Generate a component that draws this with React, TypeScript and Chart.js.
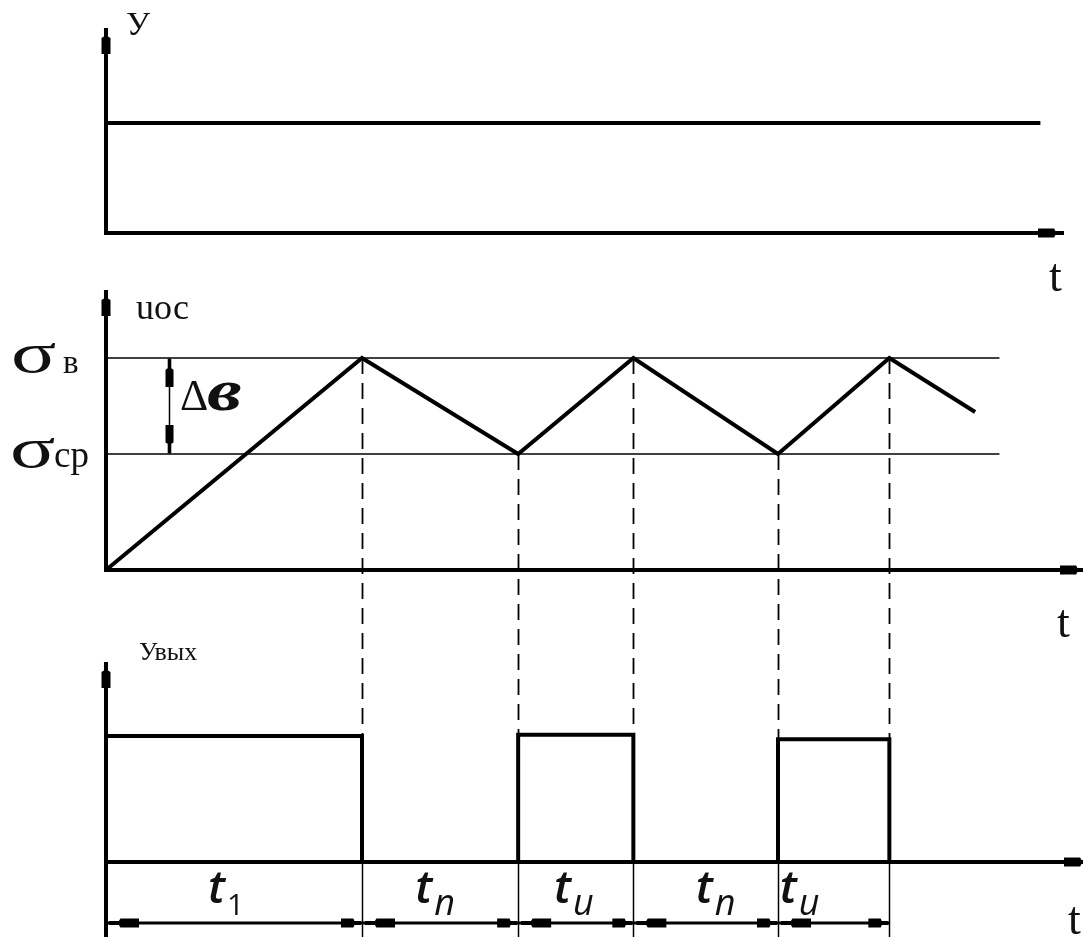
import { useEffect, useRef } from 'react';
import { Chart, registerables } from 'chart.js';

Chart.register(...registerables);

// ---- data (time in ms, signal values in relative units) ----
const inputTimes = [0, 36.5];
const inputValues = [1, 1];

const uocTimes = [0, 10, 16.1, 20.6, 26.25, 30.6, 33.95];
const uocValues = [0, 1, 0.547, 1, 0.547, 1, 0.745];

const sigmaUpper = 1;
const sigmaLower = 0.547;
const sigmaEndTime = 34.9;

const switchTimes = [0, 10, 16.1, 20.6, 26.25, 30.6];
const outputLevels = [1, 0, 1.01, 0, 0.975, 0];
const intervalSubs = ['1', 'n', 'u', 'n', 'u'];

// ---- layout ----
const W = 1083;
const H = 937;
const X0 = 106; // pixel of t = 0
const PX_PER_MS = 25.6;
const SERIF = '"Liberation Serif", "Times New Roman", serif';
const SANS = '"Open Sans", "Noto Sans", sans-serif';

function band(basePx: number, unitPx: number) {
  return {
    type: 'linear' as const,
    display: false,
    bounds: 'data' as const,
    min: (basePx - H) / unitPx,
    max: basePx / unitPx,
  };
}

function pts(xs: number[], ys: number[]) {
  return xs.map((x, i) => ({ x, y: ys[i] }));
}

// slim arrow head: tip at (x, y), pointing along (dx, dy)
function arrowHead(
  ctx: CanvasRenderingContext2D,
  x: number,
  y: number,
  dx: number,
  dy: number,
  len: number,
  half: number
) {
  const px = -dy;
  const py = dx;
  const shape: [number, number][] = [
    [0, -half * 0.45],
    [len * 0.33, -half * 0.45],
    [len * 0.38, -half],
    [len, -half],
    [len, half],
    [len * 0.38, half],
    [len * 0.33, half * 0.45],
    [0, half * 0.45],
  ];
  ctx.beginPath();
  shape.forEach(([u, v], i) => {
    const X = x - dx * u + px * v;
    const Y = y - dy * u + py * v;
    if (i === 0) ctx.moveTo(X, Y);
    else ctx.lineTo(X, Y);
  });
  ctx.closePath();
  ctx.fill();
}

const diagramPlugin = {
  id: 'diagram',
  beforeDatasetsDraw(chart: any) {
    const ctx: CanvasRenderingContext2D = chart.ctx;
    const xs = chart.scales.x;
    const yU = chart.scales.yU;
    const yOut = chart.scales.yOut;
    const outBase = yOut.getPixelForValue(0);
    ctx.save();
    ctx.strokeStyle = '#000';
    // projection lines from the sawtooth extremes down to the output pulses
    for (let i = 1; i < switchTimes.length; i++) {
      const t = switchTimes[i];
      const k = uocTimes.indexOf(t);
      const v = k >= 0 ? uocValues[k] : sigmaUpper;
      const x = Math.round(xs.getPixelForValue(t)) + 0.5;
      ctx.lineWidth = 1.8;
      ctx.setLineDash([16, 9]);
      ctx.beginPath();
      ctx.moveTo(x, yU.getPixelForValue(v));
      ctx.lineTo(x, outBase);
      ctx.stroke();
      ctx.setLineDash([]);
      ctx.lineWidth = 1.5;
      ctx.beginPath();
      ctx.moveTo(x, outBase);
      ctx.lineTo(x, H);
      ctx.stroke();
    }
    ctx.restore();
  },
  afterDatasetsDraw(chart: any) {
    const ctx: CanvasRenderingContext2D = chart.ctx;
    const xs = chart.scales.x;
    const yIn = chart.scales.yIn;
    const yU = chart.scales.yU;
    const yOut = chart.scales.yOut;
    const x0 = xs.getPixelForValue(0);
    ctx.save();
    ctx.strokeStyle = '#000';
    ctx.fillStyle = '#000';
    ctx.lineCap = 'butt';

    // axes
    const axes = [
      { base: yIn.getPixelForValue(0), top: 28, bottom: yIn.getPixelForValue(0) + 2, right: 1064 },
      { base: yU.getPixelForValue(0), top: 290, bottom: yU.getPixelForValue(0) + 2, right: 1086 },
      { base: yOut.getPixelForValue(0), top: 662, bottom: H, right: 1090 },
    ];
    ctx.lineWidth = 4;
    axes.forEach((a) => {
      ctx.beginPath();
      ctx.moveTo(x0, a.bottom);
      ctx.lineTo(x0, a.top + 20);
      ctx.moveTo(x0 - 2, a.base);
      ctx.lineTo(a.right - 20, a.base);
      ctx.stroke();
      arrowHead(ctx, x0, a.top, 0, -1, 26, 4.5);
      arrowHead(ctx, a.right, a.base, 1, 0, 26, 4.5);
    });

    // Δв dimension between the two thresholds
    const dx = Math.round(xs.getPixelForValue(2.46)) + 0.5;
    const yTop = yU.getPixelForValue(sigmaUpper);
    const yBot = yU.getPixelForValue(sigmaLower);
    ctx.lineWidth = 1.5;
    ctx.beginPath();
    ctx.moveTo(dx, yTop);
    ctx.lineTo(dx, yBot);
    ctx.stroke();
    arrowHead(ctx, dx, yTop + 1, 0, -1, 28, 4);
    arrowHead(ctx, dx, yBot - 1, 0, 1, 28, 4);

    // interval dimension line under the output
    const dimY = 923;
    const xEnd = xs.getPixelForValue(switchTimes[switchTimes.length - 1]);
    ctx.lineWidth = 3;
    ctx.beginPath();
    ctx.moveTo(x0, dimY);
    ctx.lineTo(xEnd, dimY);
    ctx.stroke();
    for (let i = 0; i < intervalSubs.length; i++) {
      const a = xs.getPixelForValue(switchTimes[i]);
      const b = xs.getPixelForValue(switchTimes[i + 1]);
      arrowHead(ctx, a + 3, dimY, -1, 0, 30, 4.5);
      arrowHead(ctx, b - 1, dimY, 1, 0, 20, 4.5);
    }

    // ---- text ----
    ctx.fillStyle = '#111';
    ctx.textBaseline = 'alphabetic';
    ctx.textAlign = 'left';

    ctx.font = `34px ${SERIF}`;
    ctx.fillText('У', 126, 35);
    ctx.font = `46px ${SERIF}`;
    ctx.fillText('t', 1049, 291);

    ctx.font = `36px ${SERIF}`;
    ctx.fillText('uос', 136, 319);

    // thresholds
    const sigma = (x: number, base: number) => {
      ctx.save();
      ctx.translate(x, base);
      ctx.scale(1.45, 1);
      ctx.font = `58px ${SERIF}`;
      ctx.fillText('σ', 0, 0);
      ctx.restore();
    };
    sigma(11, yTop + 14);
    ctx.font = `33px ${SERIF}`;
    ctx.fillText('в', 63, yTop + 15);
    sigma(10, yBot + 13);
    ctx.font = `37px ${SERIF}`;
    ctx.fillText('ср', 54, yBot + 13);

    ctx.font = `44px ${SERIF}`;
    ctx.fillText('Δ', 180, 410);
    ctx.save();
    ctx.translate(207, 410);
    ctx.scale(1.3, 1);
    ctx.font = `bold italic 60px ${SERIF}`;
    ctx.fillText('в', 0, 0);
    ctx.restore();

    ctx.font = `46px ${SERIF}`;
    ctx.fillText('t', 1057, 637);

    ctx.font = `26px ${SERIF}`;
    ctx.fillText('Увых', 139, 660);

    ctx.font = `46px ${SERIF}`;
    ctx.fillText('t', 1068, 934);

    // interval labels t1, tn, tu ...
    const labelShift = [-8, -5, -2, 10, -34];
    for (let i = 0; i < intervalSubs.length; i++) {
      const a = xs.getPixelForValue(switchTimes[i]);
      const b = xs.getPixelForValue(switchTimes[i + 1]);
      const sub = intervalSubs[i];
      ctx.font = `italic 600 46px ${SANS}`;
      const wt = ctx.measureText('t').width;
      ctx.font = sub === '1' ? `30px ${SANS}` : `italic 36px ${SANS}`;
      const ws = ctx.measureText(sub).width;
      const left = (a + b) / 2 + labelShift[i] - (wt + ws + 2) / 2;
      ctx.font = `italic 600 46px ${SANS}`;
      ctx.fillText('t', left, 903);
      ctx.font = sub === '1' ? `30px ${SANS}` : `italic 36px ${SANS}`;
      ctx.fillText(sub, left + wt + 2, 915);
    }
    ctx.restore();
  },
};

export default function App() {
  const ref = useRef<HTMLCanvasElement | null>(null);

  useEffect(() => {
    if (!ref.current) return;
    const thick = { borderColor: '#000', borderWidth: 4, pointRadius: 0, fill: false, tension: 0 };
    const thin = { borderColor: '#000', borderWidth: 1.6, pointRadius: 0, fill: false, tension: 0 };
    const chart = new Chart(ref.current, {
      type: 'line',
      data: {
        datasets: [
          { ...thick, label: 'у', yAxisID: 'yIn', data: pts(inputTimes, inputValues) },
          { ...thin, label: 'σв', yAxisID: 'yU', data: pts([0, sigmaEndTime], [sigmaUpper, sigmaUpper]) },
          { ...thin, label: 'σср', yAxisID: 'yU', data: pts([0, sigmaEndTime], [sigmaLower, sigmaLower]) },
          { ...thick, label: 'uос', yAxisID: 'yU', borderJoinStyle: 'miter', data: pts(uocTimes, uocValues) },
          {
            ...thick,
            label: 'увых',
            yAxisID: 'yOut',
            stepped: 'before',
            borderJoinStyle: 'miter',
            data: pts(switchTimes, outputLevels),
          },
        ] as any,
      },
      options: {
        animation: false,
        responsive: false,
        devicePixelRatio: 1,
        layout: { padding: 0 },
        events: [],
        plugins: { legend: { display: false }, tooltip: { enabled: false }, title: { display: false } },
        scales: {
          x: {
            type: 'linear',
            display: false,
            bounds: 'data',
            min: -X0 / PX_PER_MS,
            max: (W - X0) / PX_PER_MS,
          },
          yIn: band(233, 110),
          yU: band(570, 212),
          yOut: band(862, 126),
        },
      } as any,
      plugins: [diagramPlugin],
    });
    return () => chart.destroy();
  }, []);

  return (
    <div style={{ position: 'fixed', left: 0, top: 0, width: W, height: H, background: '#fff' }}>
      <canvas ref={ref} width={W} height={H} style={{ display: 'block', width: W, height: H }} />
    </div>
  );
}
